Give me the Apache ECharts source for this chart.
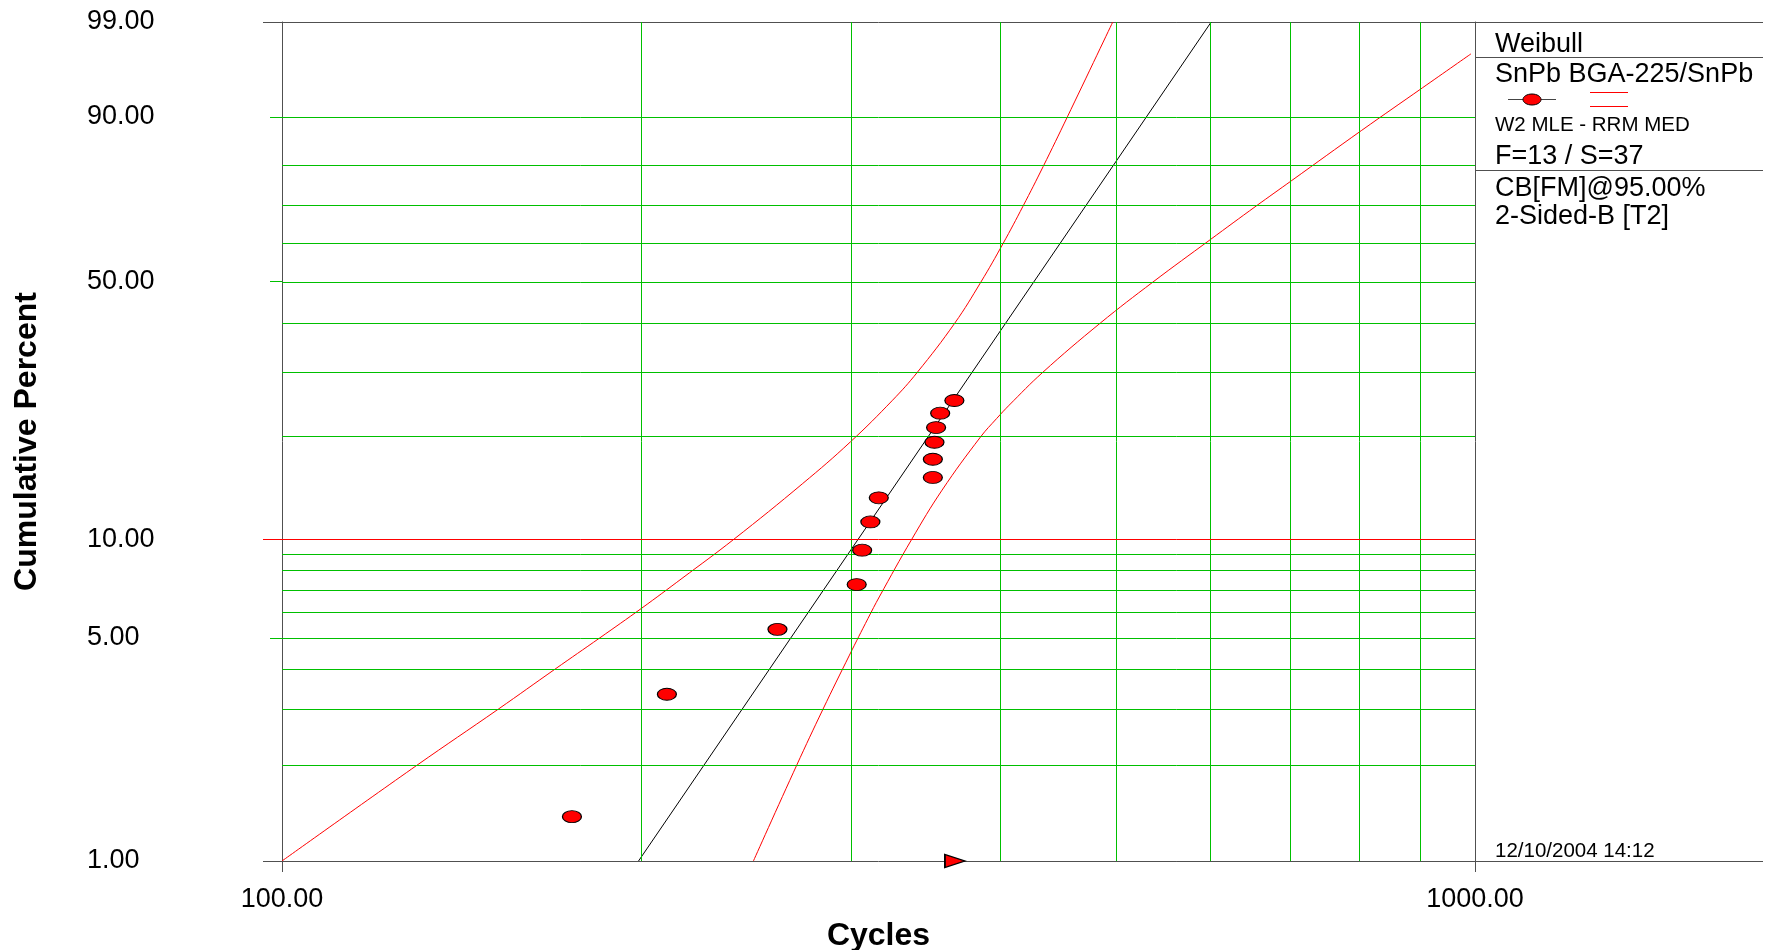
<!DOCTYPE html>
<html>
<head>
<meta charset="utf-8">
<script src="https://cdn.jsdelivr.net/npm/echarts@6/dist/echarts.min.js"></script>
<style>
html,body{margin:0;padding:0;background:#fff;}
#chart{width:1776px;height:950px;}
</style>
</head>
<body>
<div id="chart"></div>
<script>
// ---- data (cycles, cumulative percent) ----
const failCycles = [175.0, 210.2, 260.2, 303.2, 306.4, 311.3, 316.4, 351.2, 351.2, 352.3, 353.4, 356.2, 366.1];
const failPct    = [1.38, 3.34, 5.31, 7.29, 9.27, 11.27, 13.29, 15.25, 17.22, 19.26, 21.20, 23.24, 25.19];
const suspCycles = [366.5];
const suspPct    = [1.0];
const fitCycles  = [199, 601];
const fitPct     = [1.0, 99.0];
const upperCycles = [100, 129.7, 151.8, 169.4, 184.7, 200.1, 216.4, 239.2, 273.2, 299.5, 324.9, 340.7, 366.4, 385.3, 402.2, 418.0, 434.6, 455.3, 497.0];
const upperPct    = [1.0, 2.0, 3.0, 4.0, 5.0, 6.16, 7.61, 10.0, 14.64, 19.3, 25.23, 29.95, 40.0, 49.8, 59.9, 69.9, 79.9, 90.0, 99.0];
const lowerCycles = [248.4, 270.0, 284.1, 299.0, 309.9, 316.7, 337.2, 357.5, 385.1, 397.2, 406.9, 434.0, 485.2, 537.0, 599.8, 655.4, 702.3, 803.6, 903.5, 992.3];
const lowerPct    = [1.0, 2.0, 3.0, 4.42, 5.74, 6.68, 10.0, 14.0, 19.95, 22.46, 24.45, 29.95, 40.0, 49.8, 60.9, 69.9, 76.5, 87.6, 94.2, 97.4];
const pctLabels  = [1, 5, 10, 50, 90, 99];
const pctGrid    = [2, 3, 4, 5, 6, 7, 8, 9, 20, 30, 40, 50, 60, 70, 80, 90];
const pctGreenTicks = [5, 50, 90];
const pctRedLine = [10];
const pctFrame   = [1, 99];
const cycleGrid  = [200, 300, 400, 500, 600, 700, 800, 900];
const cycleMin = 100, cycleMax = 1000;

// Weibull probability scale transform
const wb = p => Math.log(-Math.log(1 - p / 100));
const inv = v => 100 * (1 - Math.exp(-Math.exp(v)));
const pairs = (xs, ps) => xs.map((x, i) => [x, wb(ps[i])]);

const FONT = "'Liberation Sans', Arial, sans-serif";
const GREEN = '#00c000';
const FRAME = '#505050';
const yMin = wb(1), yMax = wb(99);

const chart = echarts.init(document.getElementById('chart'), null, {renderer: 'canvas'});

const baseY = {type: 'value', min: yMin, max: yMax, splitLine: {show: false}, axisLabel: {show: false}, axisLine: {show: false}, axisTick: {show: false}};

const option = {
  animation: false,
  backgroundColor: '#fff',
  grid: {left: 282, top: 22, width: 1193, height: 839, containLabel: false, outerBoundsMode: 'none'},
  xAxis: [
    {type: 'log', logBase: 10, min: cycleMin, max: cycleMax, position: 'bottom',
     axisLine: {show: true, onZero: false, lineStyle: {color: FRAME, width: 1}},
     axisTick: {show: true, length: 11, lineStyle: {color: FRAME}},
     splitLine: {show: false}, minorTick: {show: false},
     axisLabel: {fontFamily: FONT, fontSize: 27, color: '#000', margin: 25, formatter: v => Number(v).toFixed(2)},
     name: 'Cycles', nameLocation: 'middle', nameGap: 59,
     nameTextStyle: {fontFamily: FONT, fontSize: 32, fontWeight: 'bold', color: '#000'}},
    {type: 'log', logBase: 10, min: cycleMin, max: cycleMax, position: 'top',
     axisLine: {show: true, onZero: false, lineStyle: {color: FRAME, width: 1}},
     axisTick: {show: false}, axisLabel: {show: false}, splitLine: {show: false}}
  ],
  yAxis: [
    Object.assign({}, baseY, {
      position: 'left',
      axisLine: {show: true, onZero: false, lineStyle: {color: FRAME, width: 1}},
      axisTick: {show: true, length: 19, lineStyle: {color: FRAME}, customValues: pctFrame.map(wb)},
      axisLabel: {show: true, customValues: pctLabels.map(wb), formatter: v => inv(v).toFixed(2),
                  fontFamily: FONT, fontSize: 27, color: '#000', align: 'left', margin: 195,
                  padding: [6, 0, 0, 0]},
      name: 'Cumulative Percent', nameLocation: 'middle', nameGap: 239, nameRotate: 90,
      nameTextStyle: {fontFamily: FONT, fontSize: 32, fontWeight: 'bold', color: '#000'}
    }),
    Object.assign({}, baseY, {position: 'left',
      axisTick: {show: true, length: 12, lineStyle: {color: GREEN}, customValues: pctGreenTicks.map(wb)}}),
    Object.assign({}, baseY, {position: 'left',
      axisTick: {show: true, length: 19, lineStyle: {color: '#ff0000'}, customValues: pctRedLine.map(wb)}}),
    Object.assign({}, baseY, {position: 'right',
      axisLine: {show: true, onZero: false, lineStyle: {color: FRAME, width: 1}}})
  ],
  series: [
    {name: 'grid', type: 'line', data: [], silent: true, z: 1,
     markLine: {silent: true, symbol: ['none', 'none'], label: {show: false}, animation: false,
       lineStyle: {color: GREEN, width: 1, type: 'solid'},
       emphasis: {disabled: true},
       data: pctGrid.map(p => ({yAxis: wb(p)})).concat(cycleGrid.map(c => ({xAxis: c})))}},
    {name: 'ref10', type: 'line', data: [], silent: true, z: 2,
     markLine: {silent: true, symbol: ['none', 'none'], label: {show: false}, animation: false,
       lineStyle: {color: '#ff0000', width: 1, type: 'solid'},
       data: pctRedLine.map(p => ({yAxis: wb(p)}))}},
    {name: 'Upper bound', type: 'line', data: pairs(upperCycles, upperPct), smooth: 0.4,
     showSymbol: false, z: 3, lineStyle: {color: '#ff0000', width: 1}},
    {name: 'Lower bound', type: 'line', data: pairs(lowerCycles, lowerPct), smooth: 0.4,
     showSymbol: false, z: 3, lineStyle: {color: '#ff0000', width: 1}},
    {name: 'Fit', type: 'line', data: pairs(fitCycles, fitPct), showSymbol: false, z: 4,
     lineStyle: {color: '#000', width: 1}},
    {name: 'Failures', type: 'scatter', data: pairs(failCycles, failPct), z: 5,
     symbol: 'circle', symbolSize: [19, 12],
     itemStyle: {color: '#ff0000', borderColor: '#000', borderWidth: 1, opacity: 1}},
    {name: 'Suspensions', type: 'scatter', data: pairs(suspCycles, suspPct), z: 6, clip: false,
     symbol: 'triangle', symbolSize: [13, 20], symbolRotate: -90,
     itemStyle: {color: '#ff0000', borderColor: '#000', borderWidth: 1.5, opacity: 1}}
  ],
  graphic: [
    {type: 'line', shape: {x1: 1475, y1: 22.5, x2: 1763, y2: 22.5}, style: {stroke: FRAME, lineWidth: 1}, silent: true},
    {type: 'line', shape: {x1: 1475, y1: 861.5, x2: 1763, y2: 861.5}, style: {stroke: FRAME, lineWidth: 1}, silent: true},
    {type: 'line', shape: {x1: 1475, y1: 57.5, x2: 1763, y2: 57.5}, style: {stroke: FRAME, lineWidth: 1}, silent: true},
    {type: 'line', shape: {x1: 1475, y1: 170.5, x2: 1763, y2: 170.5}, style: {stroke: FRAME, lineWidth: 1}, silent: true},
    {type: 'text', x: 1495, y: 45, style: {text: 'Weibull', fontFamily: FONT, fontSize: 27, fill: '#000', verticalAlign: 'middle'}},
    {type: 'text', x: 1495, y: 75, style: {text: 'SnPb BGA-225/SnPb', fontFamily: FONT, fontSize: 27, fill: '#000', verticalAlign: 'middle'}},
    {type: 'line', shape: {x1: 1508, y1: 99.5, x2: 1556, y2: 99.5}, style: {stroke: '#444', lineWidth: 1}, silent: true},
    {type: 'ellipse', shape: {cx: 1532, cy: 99.5, rx: 9, ry: 5.5}, style: {fill: '#ff0000', stroke: '#000', lineWidth: 1}, silent: true},
    {type: 'line', shape: {x1: 1590, y1: 92.5, x2: 1628, y2: 92.5}, style: {stroke: '#ff0000', lineWidth: 1}, silent: true},
    {type: 'line', shape: {x1: 1590, y1: 106.5, x2: 1628, y2: 106.5}, style: {stroke: '#ff0000', lineWidth: 1}, silent: true},
    {type: 'text', x: 1495, y: 125.5, style: {text: 'W2 MLE - RRM MED', fontFamily: FONT, fontSize: 20.5, fill: '#000', verticalAlign: 'middle'}},
    {type: 'text', x: 1495, y: 157, style: {text: 'F=13 / S=37', fontFamily: FONT, fontSize: 27, fill: '#000', verticalAlign: 'middle'}},
    {type: 'text', x: 1495, y: 188.5, style: {text: 'CB[FM]@95.00%', fontFamily: FONT, fontSize: 27, fill: '#000', verticalAlign: 'middle'}},
    {type: 'text', x: 1495, y: 217, style: {text: '2-Sided-B [T2]', fontFamily: FONT, fontSize: 27, fill: '#000', verticalAlign: 'middle'}},
    {type: 'text', x: 1495, y: 851, style: {text: '12/10/2004 14:12', fontFamily: FONT, fontSize: 20.5, fill: '#000', verticalAlign: 'middle'}}
  ]
};
chart.setOption(option);
</script>
</body>
</html>
